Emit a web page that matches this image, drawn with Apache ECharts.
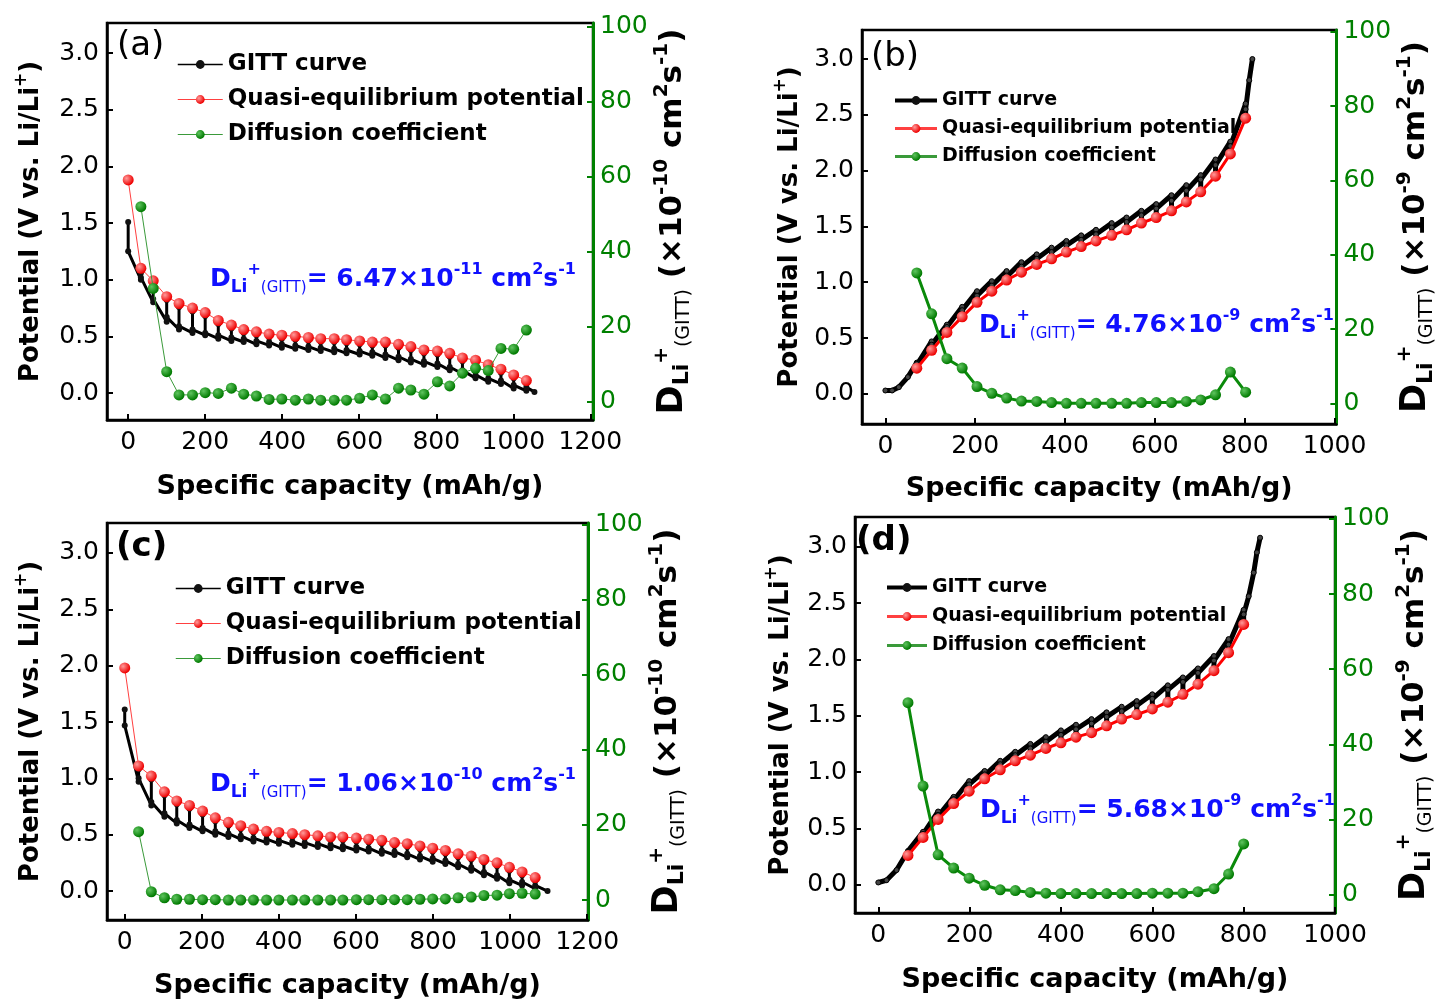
<!DOCTYPE html>
<html><head><meta charset="utf-8">
<script src="https://cdn.jsdelivr.net/npm/echarts@6/dist/echarts.min.js"></script>
<style>html,body{margin:0;padding:0;background:#fff}#c{width:1438px;height:1001px}</style>
</head><body><div id="c"></div>
<script>
// ---------- tick labels ----------
const potTicks = [0, 0.5, 1.0, 1.5, 2.0, 2.5, 3.0];
const diffTicks = [0, 20, 40, 60, 80, 100];
const capTicks1200 = [0, 200, 400, 600, 800, 1000, 1200];
const capTicks1000 = [0, 200, 400, 600, 800, 1000];
const seriesNames = ['GITT curve', 'Quasi-equilibrium potential', 'Diffusion coefficient'];
const diffTexts = ['6.47', '4.76', '1.06', '5.68'];
const diffExps = ['-11', '-9', '-10', '-9'];
const axisExps = ['-10', '-9', '-10', '-9'];
const panelLabels = ['(a)', '(b)', '(c)', '(d)'];

// ---------- panel (a) ----------
const capA = [0,33,65,100,132,167,200,234,268,300,333,366,399,434,468,500,535,567,601,634,668,702,734,768,803,835,868,902,935,968,1001,1034];
const quasiA = [1.88,1.10,0.99,0.85,0.79,0.75,0.71,0.64,0.60,0.56,0.54,0.52,0.51,0.50,0.49,0.48,0.48,0.47,0.46,0.45,0.45,0.43,0.41,0.38,0.37,0.35,0.31,0.29,0.25,0.21,0.16,0.11];
const gittRelaxA = [1.51,1.06,0.95,0.82,0.76,0.72,0.68,0.61,0.57,0.53,0.51,0.49,0.48,0.47,0.46,0.45,0.45,0.44,0.43,0.42,0.42,0.40,0.38,0.35,0.34,0.32,0.28,0.26,0.22,0.18,0.13,0.08];
const gittKneeA = [1.25,1.02,0.83,0.67,0.59,0.56,0.53,0.51,0.49,0.48,0.46,0.45,0.43,0.42,0.41,0.40,0.39,0.38,0.37,0.36,0.34,0.32,0.30,0.28,0.26,0.23,0.20,0.16,0.13,0.11,0.07,0.05];
const gittEndA = [1.00,0.80,0.63,0.56,0.53,0.51,0.48,0.46,0.45,0.43,0.42,0.40,0.39,0.38,0.37,0.36,0.35,0.34,0.33,0.31,0.29,0.27,0.25,0.23,0.20,0.17,0.13,0.10,0.08,0.04,0.02];
const gittHeadCapA = [], gittHeadA = [];
const gittTailCapA = [1055], gittTailA = [0.01];
const diffA = [52.0,30.2,8.0,1.8,1.8,2.4,2.2,3.6,2.0,1.5,0.6,0.7,0.4,0.7,0.4,0.4,0.4,0.9,1.8,0.7,3.6,3.1,2.0,5.3,4.2,7.6,8.9,8.3,14.2,14.0,19.1];

// ---------- panel (b) ----------
const capB = [70,103,137,171,204,237,270,303,337,370,403,436,469,504,537,570,603,637,670,702,735,768,802];
const quasiB = [0.23,0.39,0.55,0.69,0.82,0.92,1.02,1.09,1.16,1.21,1.27,1.32,1.37,1.42,1.47,1.53,1.58,1.64,1.72,1.81,1.95,2.15,2.47];
const gittRelaxB = [0.26,0.42,0.58,0.72,0.85,0.95,1.05,1.12,1.19,1.24,1.30,1.35,1.40,1.45,1.50,1.56,1.61,1.67,1.75,1.84,1.98,2.18,2.50];
const gittKneeB = [0.27,0.44,0.60,0.75,0.88,0.97,1.06,1.14,1.21,1.27,1.33,1.38,1.43,1.49,1.54,1.60,1.66,1.73,1.82,1.92,2.05,2.22,2.55];
const gittEndB = [0.47,0.62,0.78,0.92,1.01,1.10,1.18,1.25,1.31,1.37,1.42,1.47,1.53,1.58,1.64,1.70,1.78,1.87,1.96,2.10,2.26,2.60];
const gittHeadCapB = [0,15,30,50,70], gittHeadB = [0.03,0.03,0.06,0.15,0.28];
const gittTailCapB = [810,817], gittTailB = [2.81,3.00];
const diffB = [35.1,24.1,12.0,9.5,4.5,2.7,1.4,0.6,0.5,0.2,0.0,0.0,0.0,0.0,0.0,0.2,0.2,0.2,0.5,0.9,2.3,8.4,3.0];

// ---------- panel (c) ----------
const capC = [0,36,69,103,135,168,202,235,269,301,334,368,400,435,467,501,534,566,601,633,667,700,733,766,799,832,865,899,932,966,998,1031,1065];
const quasiC = [1.98,1.11,1.02,0.88,0.80,0.76,0.71,0.65,0.61,0.58,0.55,0.53,0.52,0.51,0.50,0.49,0.48,0.48,0.47,0.46,0.45,0.43,0.42,0.40,0.38,0.36,0.33,0.31,0.28,0.25,0.21,0.17,0.12];
const gittRelaxC = [1.61,1.08,0.99,0.85,0.77,0.73,0.68,0.62,0.58,0.55,0.52,0.50,0.49,0.48,0.47,0.46,0.45,0.45,0.44,0.43,0.42,0.40,0.39,0.37,0.35,0.33,0.30,0.28,0.25,0.22,0.18,0.14,0.09];
const gittKneeC = [1.47,1.00,0.79,0.69,0.63,0.59,0.56,0.53,0.51,0.49,0.47,0.46,0.45,0.44,0.43,0.42,0.41,0.40,0.39,0.38,0.36,0.35,0.33,0.31,0.29,0.27,0.24,0.21,0.17,0.14,0.10,0.08,0.05];
const gittEndC = [0.97,0.76,0.66,0.60,0.56,0.53,0.50,0.48,0.46,0.44,0.43,0.42,0.41,0.40,0.39,0.38,0.37,0.36,0.35,0.33,0.32,0.30,0.28,0.26,0.24,0.21,0.18,0.14,0.11,0.07,0.05,0.02];
const gittHeadCapC = [], gittHeadC = [];
const gittTailCapC = [1097], gittTailC = [0.00];
const diffC = [18.2,2.2,0.6,0.2,0.2,0.1,0.1,0.0,0.0,0.0,0.0,0.0,0.0,0.0,0.0,0.0,0.0,0.1,0.1,0.1,0.1,0.1,0.2,0.3,0.3,0.6,0.8,1.2,1.3,1.7,1.8,1.6];

// ---------- panel (d) ----------
const capD = [65,98,131,165,199,233,267,300,333,367,400,433,467,500,533,566,600,634,667,700,735,767,800];
const quasiD = [0.26,0.42,0.58,0.72,0.83,0.94,1.02,1.10,1.15,1.21,1.26,1.31,1.35,1.41,1.47,1.51,1.56,1.62,1.69,1.78,1.90,2.06,2.31];
const gittRelaxD = [0.29,0.45,0.61,0.75,0.86,0.97,1.05,1.13,1.18,1.24,1.29,1.34,1.38,1.44,1.50,1.54,1.59,1.65,1.72,1.81,1.93,2.09,2.34];
const gittKneeD = [0.29,0.45,0.62,0.76,0.89,0.98,1.07,1.15,1.21,1.27,1.33,1.38,1.43,1.49,1.54,1.59,1.65,1.73,1.80,1.88,1.99,2.13,2.40];
const gittEndD = [0.47,0.65,0.78,0.92,1.01,1.10,1.18,1.25,1.31,1.37,1.42,1.47,1.53,1.58,1.63,1.69,1.77,1.84,1.92,2.03,2.18,2.44];
const gittHeadCapD = [0,18,40,65], gittHeadD = [0.02,0.04,0.13,0.30];
const gittTailCapD = [811,822,829,836], gittTailD = [2.56,2.77,2.95,3.08];
const diffD = [51.1,28.9,10.6,7.1,4.4,2.5,1.3,1.1,0.6,0.4,0.3,0.3,0.3,0.3,0.3,0.3,0.4,0.4,0.4,0.8,1.6,5.5,13.5];

// ---------- build ----------
function gittPoints(headCap, head, cap, relax, knee, end, tailCap, tail) {
  const pts = [];
  headCap.forEach((x, i) => pts.push([x, head[i]]));
  cap.forEach((x, i) => {
    pts.push([x, relax[i]]);
    pts.push([x, knee[i]]);
    if (i < cap.length - 1) pts.push([cap[i + 1], end[i]]);
  });
  tailCap.forEach((x, i) => pts.push([x, tail[i]]));
  return pts;
}
const pairs = (xs, ys) => ys.map((y, i) => [xs[i], y]);

const FONT = 'DejaVu Sans';
const GREEN = '#008000';
function ball(c0, c1) {
  return new echarts.graphic.RadialGradient(0.35, 0.35, 0.65, [{offset: 0, color: c0}, {offset: 1, color: c1}]);
}

const panels = [
  { grid: {left: 107, top: 23, width: 486, height: 397}, x: [-55, 1207], ticks: capTicks1200, y: [-0.238, 3.265], y2: [-4.9, 101],
    gitt: gittPoints(gittHeadCapA, gittHeadA, capA, gittRelaxA, gittKneeA, gittEndA, gittTailCapA, gittTailA),
    quasi: pairs(capA, quasiA), diff: pairs(capA.slice(1), diffA), thick: false,
    legend: {left: 172, top: 48, itemWidth: 45, fs: 23, gap: 12, bold: 'bold'},
    gapL: 58, gapR: 34, gapX: 53, ann: [210, 262], lab: [117, 29] },
  { grid: {left: 862, top: 30, width: 480, height: 394}, x: [-52, 1004], ticks: capTicks1000, y: [-0.27, 3.26], y2: [-5.57, 100.5],
    gitt: gittPoints(gittHeadCapB, gittHeadB, capB, gittRelaxB, gittKneeB, gittEndB, gittTailCapB, gittTailB),
    quasi: pairs(capB, quasiB), diff: pairs(capB, diffB), thick: true,
    legend: {left: 888, top: 86, itemWidth: 42, fs: 19, gap: 9, bold: 'bold'},
    gapL: 54, gapR: 45, gapX: 51, ann: [979, 308], lab: [871, 40] },
  { grid: {left: 107, top: 523, width: 481, height: 397}, x: [-46, 1202], ticks: capTicks1200, y: [-0.257, 3.266], y2: [-5.33, 100.5],
    gitt: gittPoints(gittHeadCapC, gittHeadC, capC, gittRelaxC, gittKneeC, gittEndC, gittTailCapC, gittTailC),
    quasi: pairs(capC, quasiC), diff: pairs(capC.slice(1), diffC), thick: false,
    legend: {left: 170, top: 572, itemWidth: 45, fs: 23, gap: 12, bold: 'bold'},
    gapL: 58, gapR: 50, gapX: 52, ann: [210, 767], lab: [116, 530] },
  { grid: {left: 855, top: 517, width: 480, height: 396}, x: [-51, 1000], ticks: capTicks1000, y: [-0.251, 3.264], y2: [-4.87, 100.5],
    gitt: gittPoints(gittHeadCapD, gittHeadD, capD, gittRelaxD, gittKneeD, gittEndD, gittTailCapD, gittTailD),
    quasi: pairs(capD, quasiD), diff: pairs(capD, diffD), thick: true,
    legend: {left: 880, top: 573, itemWidth: 40, fs: 19, gap: 10, bold: 'bold'},
    gapL: 56, gapR: 56, gapX: 53, ann: [980, 793], lab: [856, 524] }
];

const supStyle = {fontSize: 17, fontWeight: 'bold', verticalAlign: 'top', lineHeight: 36};
const option = {
  animation: false,
  backgroundColor: '#fff',
  grid: [], xAxis: [], yAxis: [], series: [], legend: [], graphic: []
};

panels.forEach((p, k) => {
  option.grid.push(Object.assign({show: true, borderColor: '#000', borderWidth: 2.5, backgroundColor: 'transparent'}, p.grid));
  option.xAxis.push({
    type: 'value', gridIndex: k, min: p.x[0], max: p.x[1],
    axisLine: {show: true, onZero: false, lineStyle: {color: '#000', width: 2.5}},
    axisTick: {show: true, inside: true, length: 6, customValues: p.ticks, lineStyle: {color: '#000', width: 2}},
    axisLabel: {customValues: p.ticks, formatter: v => String(Math.round(v)), fontFamily: FONT, fontSize: 25, color: '#000', margin: 10},
    splitLine: {show: false},
    name: 'Specific capacity (mAh/g)', nameLocation: 'middle', nameGap: p.gapX,
    nameTextStyle: {fontFamily: FONT, fontWeight: 'bold', fontSize: 27, color: '#000'}
  });
  option.yAxis.push({
    type: 'value', gridIndex: k, min: p.y[0], max: p.y[1], position: 'left',
    axisLine: {show: true, onZero: false, lineStyle: {color: '#000', width: 2.5}},
    axisTick: {show: true, inside: true, length: 6, customValues: potTicks, lineStyle: {color: '#000', width: 2}},
    axisLabel: {customValues: potTicks, formatter: v => v.toFixed(1), fontFamily: FONT, fontSize: 25, color: '#000', margin: 8},
    splitLine: {show: false},
    name: 'Potential (V vs. Li/Li{sup|+})', nameLocation: 'middle', nameGap: p.gapL,
    nameTextStyle: {fontFamily: FONT, fontWeight: 'bold', fontSize: 26, color: '#000', lineHeight: 36, rich: {sup: supStyle}}
  });
  option.yAxis.push({
    type: 'value', gridIndex: k, min: p.y2[0], max: p.y2[1], position: 'right',
    axisLine: {show: true, onZero: false, lineStyle: {color: GREEN, width: 3}},
    axisTick: {show: true, inside: true, length: 6, customValues: diffTicks, lineStyle: {color: GREEN, width: 2}},
    axisLabel: {customValues: diffTicks, formatter: v => String(Math.round(v)), fontFamily: FONT, fontSize: 25, color: GREEN, margin: 7},
    splitLine: {show: false},
    name: '{d|D}{s|Li}{p|+}{g|(GITT)} (×10{p|' + axisExps[k] + '} cm{p|2}s{p|-1})',
    nameLocation: 'middle', nameGap: p.gapR,
    nameTextStyle: {fontFamily: FONT, fontWeight: 'bold', fontSize: 31, color: '#000', lineHeight: 42,
      rich: {
        d: {fontSize: 35, fontWeight: 'bold', lineHeight: 42},
        s: {fontSize: 22, fontWeight: 'bold', verticalAlign: 'bottom', lineHeight: 42},
        p: {fontSize: 20, fontWeight: 'bold', verticalAlign: 'top', lineHeight: 42},
        g: {fontSize: 19, fontWeight: 'normal', verticalAlign: 'bottom', lineHeight: 42}
      }}
  });
  const th = p.thick;
  option.series.push({
    name: seriesNames[0], type: 'line', xAxisIndex: k, yAxisIndex: 2 * k, data: p.gitt,
    symbol: 'circle', symbolSize: th ? 5 : 6, showAllSymbol: true,
    itemStyle: {color: th ? '#444' : '#111', borderColor: '#000', borderWidth: th ? 1 : 0},
    lineStyle: {color: '#000', width: th ? 5 : 3}, z: 2
  });
  option.series.push({
    name: seriesNames[1], type: 'line', xAxisIndex: k, yAxisIndex: 2 * k, data: p.quasi,
    symbol: 'circle', symbolSize: 11, showAllSymbol: true,
    itemStyle: {color: ball('#ff9a9a', '#ee0000')},
    lineStyle: {color: th ? '#ff0000' : '#ff4040', width: th ? 3 : 1}, z: 3
  });
  option.series.push({
    name: seriesNames[2], type: 'line', xAxisIndex: k, yAxisIndex: 2 * k + 1, data: p.diff,
    symbol: 'circle', symbolSize: 11, showAllSymbol: true,
    itemStyle: {color: ball('#5fc45f', '#007a00')},
    lineStyle: {color: th ? '#0a8a0a' : '#3a9a3a', width: th ? 3 : 1}, z: 4
  });
  const L = p.legend;
  const legendLineW = th ? [4, 3, 3] : [1.5, 1, 1];
  option.legend.push({
    orient: 'vertical', left: L.left, top: L.top, itemWidth: L.itemWidth, itemHeight: 11, itemGap: L.gap,
    data: seriesNames.map((n, j) => ({name: n, lineStyle: {width: legendLineW[j]}})),
    selectedMode: false,
    textStyle: {fontFamily: FONT, fontSize: L.fs, fontWeight: L.bold, color: '#000'}
  });
  option.graphic.push({
    type: 'text', left: p.lab[0], top: p.lab[1], z: 10,
    style: {text: panelLabels[k], font: (k >= 2 ? 'bold ' : '') + '34px "DejaVu Sans"', fill: '#000'}
  });
  option.graphic.push({
    type: 'text', left: p.ann[0], top: p.ann[1], z: 10,
    style: {
      text: '{m|D}{s|Li}{p|+}{g|(GITT)}{m|= ' + diffTexts[k] + '×10}{p|' + diffExps[k] + '}{m| cm}{p|2}{m|s}{p|-1}',
      fill: '#1010ff',
      rich: {
        m: {fontFamily: FONT, fontWeight: 'bold', fontSize: 25, lineHeight: 34, fill: '#1010ff'},
        s: {fontFamily: FONT, fontWeight: 'bold', fontSize: 17, lineHeight: 34, verticalAlign: 'bottom', fill: '#1010ff'},
        p: {fontFamily: FONT, fontWeight: 'bold', fontSize: 16, lineHeight: 34, verticalAlign: 'top', fill: '#1010ff'},
        g: {fontFamily: FONT, fontWeight: 'normal', fontSize: 15, lineHeight: 34, verticalAlign: 'bottom', fill: '#1010ff'}
      }
    }
  });
});

const chart = echarts.init(document.getElementById('c'), null, {renderer: 'canvas'});
chart.setOption(option);
</script></body></html>
